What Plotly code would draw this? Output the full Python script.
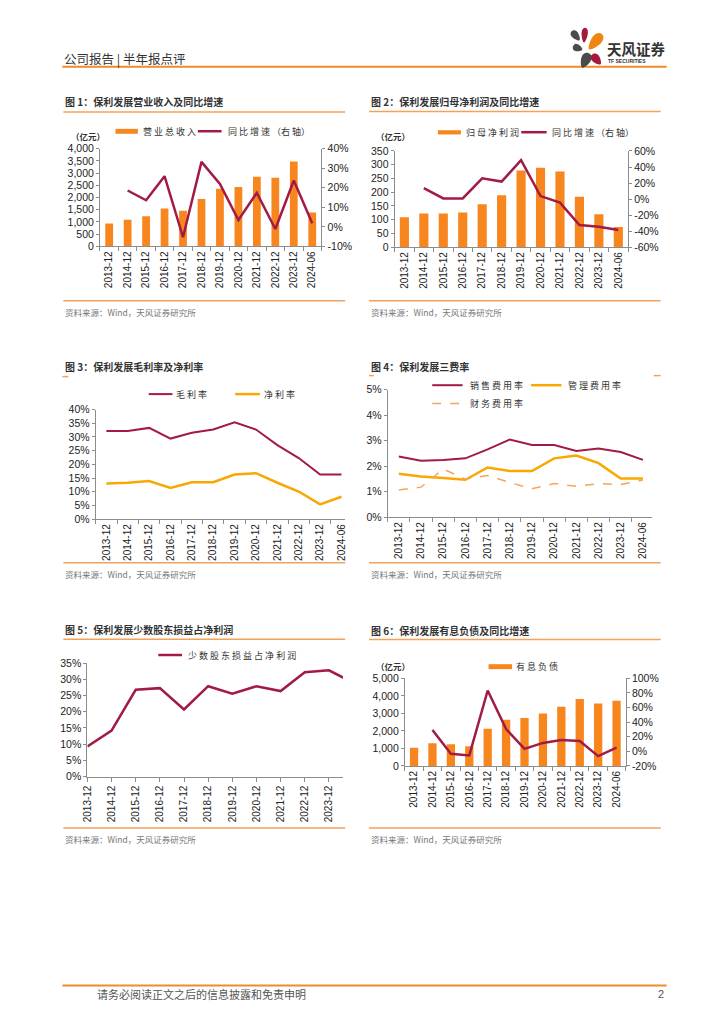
import math
import plotly.graph_objects as go

W, H = 724, 1024

# ---------------- data ----------------
cats = ["2013-12", "2014-12", "2015-12", "2016-12", "2017-12", "2018-12",
        "2019-12", "2020-12", "2021-12", "2022-12", "2023-12", "2024-06"]
revenue = [935, 1090, 1234, 1547, 1463, 1945, 2360, 2432, 2850, 2811, 3471, 1392]
revenue_yoy = [None, 18.6, 13.6, 25.9, -5.3, 33.2, 22.0, 3.5, 17.4, -1.1, 23.7, 1.8]
net_profit = [109, 122, 122, 126, 156, 189, 279, 289, 275, 183, 120, 73]
net_profit_yoy = [None, 13.6, 0.8, 0.8, 25.9, 21.8, 48.5, 3.7, -4.5, -32.5, -34.5, -38.6]
gross_margin = [32.2, 32.2, 33.3, 29.4, 31.5, 32.7, 35.3, 32.7, 27.0, 22.3, 16.3, 16.3]
net_margin = [13.0, 13.3, 13.9, 11.4, 13.5, 13.5, 16.3, 16.8, 13.3, 10.1, 5.4, 8.2]
selling_rate = [2.38, 2.22, 2.24, 2.31, 2.66, 3.05, 2.83, 2.83, 2.60, 2.70, 2.56, 2.25]
admin_rate = [1.71, 1.60, 1.54, 1.47, 1.95, 1.81, 1.81, 2.31, 2.42, 2.12, 1.52, 1.52]
finance_rate = [1.07, 1.18, 1.89, 1.50, 1.64, 1.36, 1.12, 1.32, 1.21, 1.32, 1.28, 1.46]
minority_share = [9.3, 14.2, 26.8, 27.3, 20.7, 27.9, 25.6, 27.9, 26.4, 32.2, 32.8, 29.0]
debt = [1040, 1290, 1240, 1128, 2120, 2632, 2744, 2989, 3383, 3816, 3571, 3722]
debt_yoy = [None, 29.2, -3.3, -5.5, 83.3, 30.5, 3.5, 11.6, 15.7, 14.3, -6.5, 5.3]

p1_right_vals = [-10, 0, 10, 20, 30, 40]
p1_right_text = ["-10%", "0%", "10%", "20%", "30%", "40%"]
p2_right_vals = [-60, -40, -20, 0, 20, 40, 60]
p2_right_text = ["-60%", "-40%", "-20%", "0%", "20%", "40%", "60%"]
p6_right_vals = [-20, 0, 20, 40, 60, 80, 100]
p6_right_text = ["-20%", "0%", "20%", "40%", "60%", "80%", "100%"]

titles = ["图 1：保利发展营业收入及同比增速", "图 2：保利发展归母净利润及同比增速",
          "图 3：保利发展毛利率及净利率", "图 4：保利发展三费率",
          "图 5：保利发展少数股东损益占净利润", "图 6：保利发展有息负债及同比增速"]
source_text = "资料来源：Wind，天风证券研究所"

# ---------------- style ----------------
BAR = "#F7861F"
RED = "#A11B44"
GOLD = "#F8A800"
LORANGE = "#F5A55C"
RULE = "#F4A259"
AX = "#8C8C8C"
CJK = "Noto Sans CJK SC"
NUM = "Liberation Sans, Arial"


def X(px):
    return px / W


def Y(py):
    return 1 - py / H


shapes = []
annotations = []


def ann(text, px, py, size, color="#333333", xanchor="left", family=CJK, yanchor="middle"):
    annotations.append(dict(text=text, x=X(px), y=Y(py), xref="paper", yref="paper",
                            xanchor=xanchor, yanchor=yanchor, showarrow=False,
                            font=dict(size=size, color=color, family=family)))


def hline(x0, x1, py, color, width=1.5, dash="solid"):
    shapes.append(dict(type="line", xref="paper", yref="paper", x0=X(x0), x1=X(x1),
                       y0=Y(py), y1=Y(py), line=dict(color=color, width=width, dash=dash)))


def rect(x0, x1, y0, y1, color):
    shapes.append(dict(type="rect", xref="paper", yref="paper", x0=X(x0), x1=X(x1),
                       y0=Y(y1), y1=Y(y0), fillcolor=color, line=dict(width=0)))


def petal(cx, cy, a, b, ang, color):
    th = math.radians(ang)
    pts = []
    n = 28
    for k in range(n):
        t = 2 * math.pi * k / n
        ex = a * math.cos(t)
        ey = b * math.sin(t) * (1 - 0.35 * math.cos(t))
        rx = ex * math.cos(th) - ey * math.sin(th)
        ry = ex * math.sin(th) + ey * math.cos(th)
        pts.append((cx + rx, cy + ry))
    path = "M " + " L ".join(f"{X(p[0]):.5f},{Y(p[1]):.5f}" for p in pts) + " Z"
    shapes.append(dict(type="path", xref="paper", yref="paper", path=path,
                       fillcolor=color, line=dict(width=0)))


# ---------------- header / footer ----------------
ann("公司报告 | 半年报点评", 57, 53, 12.5, "#333333")
hline(57, 668, 61.5, "#F08A2A", 2)
petal(576, 30, 6, 3.5, 50, "#4B4B4B")
petal(585, 29.5, 7.5, 3, 95, "#A6193F")
petal(596, 36, 10, 5, 130, "#F0860F")
petal(578, 42.5, 5, 3.5, 20, "#4B4B4B")
petal(586, 55, 8, 4.8, 115, "#4B4B4B")
petal(597, 54, 6.5, 4, 50, "#A6193F")
ann("<b>天风证券</b>", 606, 43.5, 14.5, "#333333")
ann("<b>TF SECURITIES</b>", 607, 56, 5, "#333333", family=NUM)

hline(57, 668, 991, "#F08A2A", 2)
ann("请务必阅读正文之后的信息披露和免责申明", 90, 1000, 11, "#555555")
ann("2", 667, 1000, 11, "#555555", xanchor="right", family=NUM)

# ---------------- panel frames ----------------
frames = [
    (58, 343, 97, 107.3, 298.3, 309.3, "full"),
    (367, 662, 97, 106.7, 298.3, 309.3, "full"),
    (58, 343, 365, 375, 563.3, 575, "leftmark"),
    (367, 662, 365, 374, 563.3, 575, "bothmarks"),
    (58, 343, 631, 640.7, 831.7, 843.3, "full"),
    (367, 662, 632, 641, 831.7, 843.3, "full"),
]
for i, (x0, x1, ty, ly, by, sy, kind) in enumerate(frames):
    ann("<b>" + titles[i] + "</b>", x0, ty, 10, "#333333")
    if kind == "full":
        hline(x0, x1, ly, RULE, 1.5)
    elif kind == "leftmark":
        hline(x0 - 1, x0 + 5, ly, RULE, 1.5)
    else:
        hline(x0, x0 + 5, ly, RULE, 1.5)
        hline(x1 - 7, x1, ly, RULE, 1.5)
    hline(x0, x1, by, RULE, 1.5)
    ann(source_text, x0, sy, 8.5, "#777777")

# ---------------- legends ----------------
# panel 1
rect(110.7, 133.3, 124.3, 129.3, BAR)
ann("营 业 总 收 入", 137, 127, 9)
hline(194, 218, 126.7, RED, 2.5)
ann("同 比 增 速 （右 轴）", 222, 127, 9)
ann("<b>（亿元）</b>", 64, 132, 8.5)
# panel 2
rect(436.7, 460, 125.7, 130, BAR)
ann("归 母 净 利 润", 463, 127.5, 9)
hline(521, 546.7, 127.7, RED, 2.5)
ann("同 比 增 速 （右 轴）", 550, 127.5, 9)
ann("<b>（亿元）</b>", 372, 132, 8.5)
# panel 3
hline(144.3, 168.3, 392.7, RED, 2)
ann("毛 利 率", 170, 393, 9)
hline(231.7, 256.7, 392.7, GOLD, 2.5)
ann("净 利 率", 259, 393, 9)
# panel 4
hline(431, 461.7, 383.7, RED, 2)
ann("销 售 费 用 率", 466.7, 384, 9)
hline(531, 561.7, 383.7, GOLD, 2.5)
ann("管 理 费 用 率", 566.7, 384, 9)
hline(431, 461.7, 402.3, LORANGE, 1.5, "dash")
ann("财 务 费 用 率", 466.7, 402.5, 9)
# panel 5
hline(154, 178, 656.7, RED, 2.5)
ann("少 数 股 东 损 益 占 净 利 润", 181.7, 657, 9)
# panel 6
rect(488, 511.7, 666, 671, BAR)
ann("有 息 负 债", 514, 668.5, 9)
ann("<b>（亿元）</b>", 372, 668, 8.5)

# ---------------- traces ----------------
fig = go.Figure()
fig.add_trace(go.Bar(x=cats, y=revenue, width=0.42, marker=dict(color=BAR, line=dict(width=0)),
                     xaxis="x", yaxis="y"))
fig.add_trace(go.Scatter(x=cats, y=revenue_yoy, mode="lines", line=dict(color=RED, width=2.5),
                         xaxis="x", yaxis="y7"))
fig.add_trace(go.Bar(x=cats, y=net_profit, width=0.47, marker=dict(color=BAR, line=dict(width=0)),
                     xaxis="x2", yaxis="y2"))
fig.add_trace(go.Scatter(x=cats, y=net_profit_yoy, mode="lines", line=dict(color=RED, width=2.5),
                         xaxis="x2", yaxis="y8"))
fig.add_trace(go.Scatter(x=cats, y=gross_margin, mode="lines", line=dict(color=RED, width=2),
                         xaxis="x3", yaxis="y3"))
fig.add_trace(go.Scatter(x=cats, y=net_margin, mode="lines", line=dict(color=GOLD, width=2.5),
                         xaxis="x3", yaxis="y3"))
fig.add_trace(go.Scatter(x=cats, y=selling_rate, mode="lines", line=dict(color=RED, width=2),
                         xaxis="x4", yaxis="y4"))
fig.add_trace(go.Scatter(x=cats, y=admin_rate, mode="lines", line=dict(color=GOLD, width=2.5),
                         xaxis="x4", yaxis="y4"))
fig.add_trace(go.Scatter(x=cats, y=finance_rate, mode="lines",
                         line=dict(color=LORANGE, width=1.5, dash="dash"),
                         xaxis="x4", yaxis="y4"))
fig.add_trace(go.Scatter(x=cats, y=minority_share, mode="lines", line=dict(color=RED, width=2.5),
                         xaxis="x5", yaxis="y5"))
fig.add_trace(go.Bar(x=cats, y=debt, width=0.45, marker=dict(color=BAR, line=dict(width=0)),
                     xaxis="x6", yaxis="y6"))
fig.add_trace(go.Scatter(x=cats, y=debt_yoy, mode="lines", line=dict(color=RED, width=2.5),
                         xaxis="x6", yaxis="y9"))

# ---------------- axes ----------------
tickfont = dict(size=10.5, color="#222222", family=NUM)
xtickfont = dict(size=10, color="#222222", family=NUM)


def xax(px0, px1, anchor, rng, on="boundaries"):
    return dict(domain=[X(px0), X(px1)], anchor=anchor, type="category",
                categoryorder="array", categoryarray=cats, range=rng,
                showgrid=False, zeroline=False, showline=True, linecolor=AX, linewidth=1,
                ticks="outside", ticklen=4, tickcolor=AX, tickson=on, tickangle=-90,
                tickfont=xtickfont, fixedrange=True)


def yax(py0, py1, anchor, rng, dtick, fmt=None, suffix=None):
    d = dict(domain=[Y(py1), Y(py0)], anchor=anchor, range=rng, dtick=dtick, tick0=0,
             showgrid=False, zeroline=False, showline=True, linecolor=AX, linewidth=1,
             ticks="outside", ticklen=3, tickcolor=AX, tickfont=tickfont, fixedrange=True)
    if fmt:
        d["tickformat"] = fmt
    if suffix:
        d["ticksuffix"] = suffix
    return d


def yright(overlay, anchor, rng, vals, text):
    return dict(overlaying=overlay, anchor=anchor, side="right", range=rng,
                tickmode="array", tickvals=vals, ticktext=text,
                showgrid=False, zeroline=False, showline=True, linecolor=AX, linewidth=1,
                ticks="outside", ticklen=3, tickcolor=AX, tickfont=tickfont, fixedrange=True)


layout = dict(
    width=W, height=H, margin=dict(l=0, r=0, t=0, b=0),
    paper_bgcolor="white", plot_bgcolor="white", showlegend=False,
    font=dict(family=CJK, color="#333333"),
    xaxis=xax(95, 319, "y", [-0.5, 11.5]),
    yaxis=yax(144.3, 243.3, "x", [0, 4000], 500, fmt=","),
    xaxis2=xax(393, 629, "y2", [-0.5, 11.5]),
    yaxis2=yax(146.7, 244, "x2", [0, 350], 50),
    xaxis3=xax(90.7, 342.7, "y3", [-0.5, 11.16]),
    yaxis3=yax(408.3, 519.3, "x3", [0, 40], 5, suffix="%"),
    xaxis4=xax(386, 653, "y4", [-0.5, 11.4]),
    yaxis4=yax(388.3, 517.3, "x4", [0, 5], 1, suffix="%"),
    xaxis5=xax(82.3, 340.7, "y5", [0, 10.58], on="labels"),
    yaxis5=yax(665, 779.7, "x5", [0, 35], 5, suffix="%"),
    xaxis6=xax(403.3, 626.7, "y6", [-0.5, 11.5]),
    yaxis6=yax(680.3, 769, "x6", [0, 5000], 1000, fmt=","),
    yaxis7=yright("y", "x", [-10, 40], p1_right_vals, p1_right_text),
    yaxis8=yright("y2", "x2", [-60, 60], p2_right_vals, p2_right_text),
    yaxis9=yright("y6", "x6", [-20, 100], p6_right_vals, p6_right_text),
    shapes=shapes, annotations=annotations,
)
fig.update_layout(**layout)

fig.write_html("out.html", post_script="document.body.style.margin='0px';",
               config={"displayModeBar": False})
